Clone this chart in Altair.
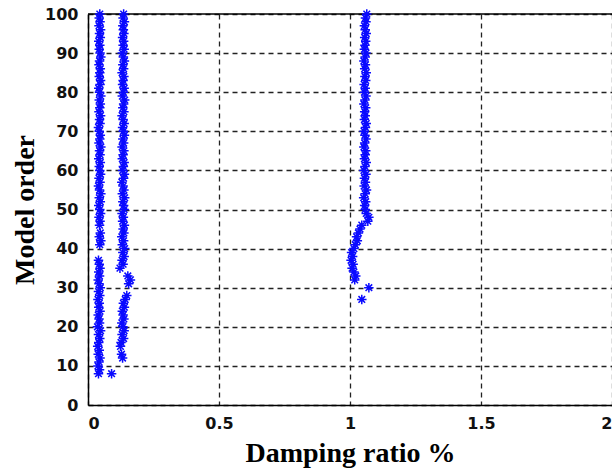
import altair as alt
import pandas as pd

# Column 1 (damping ~0.045 %)
c1_orders = list(range(8, 38)) + [41, 42, 43, 44] + list(range(46, 101)) + [8]
c1_ratio = [0.040,0.044,0.038,0.042,0.046,0.039,0.043,0.037,0.041,0.045,
            0.040,0.048,0.036,0.044,0.042,0.039,0.046,0.041,0.043,0.038,
            0.045,0.040,0.047,0.042,0.039,0.044,0.041,0.046,0.043,0.040,
            0.045,0.049,0.043,0.047,
            0.044,0.046,0.042,0.048,0.045,0.041,0.047,0.043,0.049,0.044,
            0.040,0.046,0.042,0.048,0.045,0.043,0.047,0.041,0.046,0.044,
            0.049,0.042,0.045,0.047,0.043,0.040,0.046,0.044,0.048,0.042,
            0.045,0.047,0.043,0.049,0.044,0.041,0.046,0.048,0.043,0.045,
            0.047,0.042,0.044,0.049,0.046,0.043,0.045,0.041,0.047,0.044,
            0.048,0.042,0.046,0.043,0.045,
            0.090]

# Column 2 (damping ~0.135 %)
c2_orders = [12, 13, 15, 16] + list(range(17, 27)) + [27, 28, 31, 32, 33, 35] + list(range(36, 101))
c2_ratio = [0.132,0.128,0.124,0.126,
            0.136,0.130,0.138,0.133,0.129,0.137,0.134,0.131,0.139,0.135,
            0.142,0.148,0.155,0.162,0.152,0.122,
            0.134,0.130,0.138,0.133,0.140,0.131,0.136,0.129,0.137,0.134,
            0.139,0.132,0.135,0.130,0.138,0.136,0.133,0.140,0.131,0.137,
            0.134,0.129,0.136,0.139,0.132,0.135,0.138,0.131,0.134,0.137,
            0.130,0.136,0.133,0.139,0.135,0.132,0.138,0.134,0.130,0.137,
            0.133,0.136,0.140,0.131,0.135,0.138,0.132,0.134,0.137,0.130,
            0.136,0.133,0.139,0.135,0.131,0.138,0.134,0.136,0.132,0.137,
            0.135,0.133,0.139,0.134,0.136]

# Column 3 (damping ~1.05 %)
c3_orders = [27, 30] + list(range(32, 51)) + list(range(51, 101))
c3_ratio = [1.045,1.072,
            1.018,1.022,1.015,1.008,1.012,1.004,1.010,1.006,1.015,1.020,
            1.028,1.025,1.032,1.038,1.045,1.068,1.072,1.062,1.058,
            1.056,1.060,1.052,1.058,1.063,1.054,1.059,1.055,1.061,1.053,
            1.057,1.062,1.055,1.058,1.060,1.053,1.056,1.061,1.057,1.054,
            1.059,1.062,1.055,1.058,1.056,1.060,1.053,1.057,1.061,1.055,
            1.058,1.054,1.060,1.057,1.062,1.056,1.059,1.053,1.058,1.061,
            1.055,1.057,1.060,1.056,1.062,1.058,1.055,1.061,1.059,1.064]

assert len(c1_orders) == len(c1_ratio), (len(c1_orders), len(c1_ratio))
assert len(c2_orders) == len(c2_ratio), (len(c2_orders), len(c2_ratio))
assert len(c3_orders) == len(c3_ratio), (len(c3_orders), len(c3_ratio))

x_ticks = [0, 0.5, 1, 1.5, 2]
y_ticks = [0, 10, 20, 30, 40, 50, 60, 70, 80, 90, 100]

df = pd.DataFrame({
    "order": c1_orders + c2_orders + c3_orders,
    "ratio": c1_ratio + c2_ratio + c3_ratio,
})

asterisk = "M-1,0L1,0M0,-1L0,1M-0.7,-0.7L0.7,0.7M-0.7,0.7L0.7,-0.7"

xscale = alt.Scale(domain=[0, 2], nice=False, zero=False)
yscale = alt.Scale(domain=[0, 100], nice=False)
yaxis = alt.Axis(values=y_ticks, title="Model order")

points = alt.Chart(df).mark_point(
    shape=asterisk, filled=False, size=90, strokeWidth=1.5, color="#0a0aff", opacity=1
).encode(
    x=alt.X("ratio:Q", scale=xscale,
            axis=alt.Axis(values=x_ticks, format="~g", title="Damping ratio %")),
    y=alt.Y("order:Q", scale=yscale, axis=yaxis),
)

top = alt.Chart(pd.DataFrame({"order": [100]})).mark_rule(color="black", strokeWidth=1.5).encode(
    y=alt.Y("order:Q", scale=yscale, axis=yaxis)
)

chart = alt.layer(top, points).properties(
    width=524, height=391,
    autosize=alt.AutoSizeParams(type="none"),
    padding={"left": 88, "top": 14, "right": 0, "bottom": 66},
).configure_view(stroke=None).configure_axis(
    grid=True, gridColor="#222", gridDash=[5, 4], gridWidth=1.3, gridOpacity=1,
    domainColor="black", domainWidth=1.5, ticks=False,
    labelFont="DejaVu Sans", labelFontWeight="bold", labelFontSize=16, labelColor="#111",
    labelPadding=10,
    titleFont="Liberation Serif", titleFontWeight="bold", titleFontSize=28, titleColor="black",
).configure_axisY(titlePadding=5).configure_axisX(titlePadding=8)

chart.save("out.html", embed_options={"renderer": "svg", "actions": False})
